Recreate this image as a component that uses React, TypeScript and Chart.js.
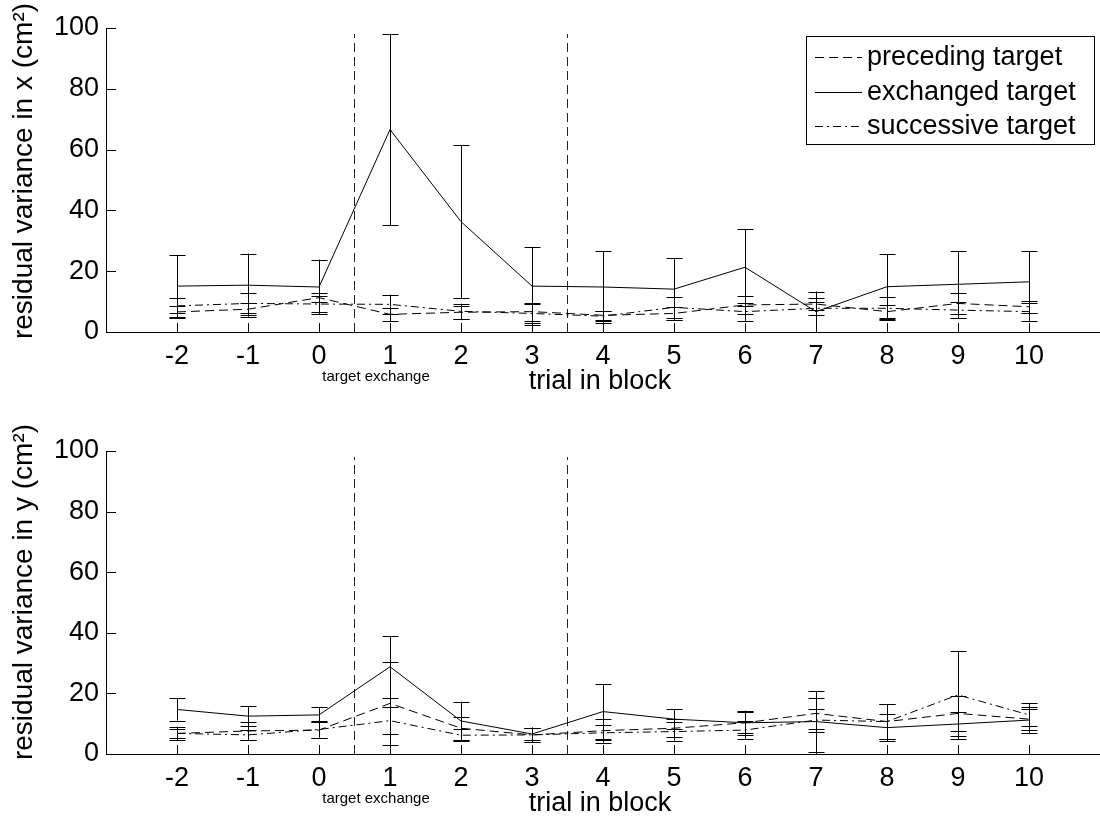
import React, { useEffect, useRef } from "react";
import { Chart, registerables } from "chart.js";

Chart.register(...registerables);

// ---------- data ----------
const trials = [-2, -1, 0, 1, 2, 3, 4, 5, 6, 7, 8, 9, 10];
const yTickValues = [0, 20, 40, 60, 80, 100];
const exchangeLines = [0.5, 3.5];
const exchangeLineTop = 98;
const seriesNames = ["preceding target", "exchanged target", "successive target"];

// residual variance in x
const xPrecedingMean = [6.6, 7.5, 11.3, 5.8, 6.5, 6.7, 5.5, 6.1, 8.9, 9.2, 6.7, 9.4, 8.3];
const xPrecedingErr = [1.9, 2.0, 1.5, 2.2, 2.2, 3.0, 1.5, 2.0, 3.0, 2.0, 2.2, 3.5, 2.0];
const xExchangedMean = [15.1, 15.4, 14.8, 66.6, 36.3, 15.1, 14.8, 14.1, 21.3, 6.7, 14.9, 15.7, 16.5];
const xExchangedErr = [10.3, 10.4, 9.0, 31.5, 25.2, 12.9, 11.8, 10.3, 12.6, 6.6, 10.6, 11.0, 10.2];
const xSuccessiveMean = [8.6, 9.4, 9.2, 9.1, 6.8, 6.1, 5.2, 8.1, 6.7, 7.8, 7.8, 7.2, 6.7];
const xSuccessiveErr = [2.5, 3.3, 2.6, 3.2, 2.5, 3.0, 1.7, 3.5, 3.0, 2.2, 3.8, 2.7, 3.0];

// residual variance in y
const yPrecedingMean = [6.8, 7.6, 7.9, 16.7, 8.5, 6.3, 7.7, 8.5, 10.3, 13.4, 10.7, 13.4, 11.5];
const yPrecedingErr = [1.5, 2.9, 2.5, 13.7, 3.8, 2.3, 4.0, 3.0, 3.5, 5.0, 5.7, 5.8, 3.5];
const yExchangedMean = [14.7, 12.5, 12.9, 28.8, 10.9, 6.6, 14.0, 11.5, 10.3, 10.7, 8.7, 9.9, 11.2];
const yExchangedErr = [3.7, 3.3, 2.5, 10.2, 6.4, 2.1, 9.1, 3.2, 4.0, 10.1, 4.4, 4.0, 4.2];
const ySuccessiveMean = [6.8, 6.3, 8.1, 11.0, 6.2, 6.3, 7.0, 7.4, 7.9, 11.2, 10.7, 19.5, 12.9];
const ySuccessiveErr = [2.2, 1.7, 2.7, 4.5, 2.0, 2.4, 2.5, 3.0, 2.9, 3.8, 5.8, 14.5, 3.8];

// ---------- styles ----------
const FONT = '"Liberation Sans", Arial, Helvetica, sans-serif';
const DASH = [9, 5];
const DASHDOT = [8, 4, 2, 4];
const seriesDash = [DASH, [], DASHDOT];

type Panel = {
  ylabel: string;
  means: number[][];
  errs: number[][];
  top: number;
  bottom: number;
  legend: boolean;
  xlabelY: number;
  noteY: number;
  ylabelY: number;
};

const panels: Panel[] = [
  {
    ylabel: "residual variance in x (cm²)",
    means: [xPrecedingMean, xExchangedMean, xSuccessiveMean],
    errs: [xPrecedingErr, xExchangedErr, xSuccessiveErr],
    top: 28,
    bottom: 332,
    legend: true,
    xlabelY: 382,
    noteY: 377,
    ylabelY: 171,
  },
  {
    ylabel: "residual variance in y (cm²)",
    means: [yPrecedingMean, yExchangedMean, ySuccessiveMean],
    errs: [yPrecedingErr, yExchangedErr, ySuccessiveErr],
    top: 42,
    bottom: 345,
    legend: false,
    xlabelY: 395,
    noteY: 390,
    ylabelY: 183,
  },
];

const W = 1100;
const H = 409;

const panelPlugin = {
  id: "panel",
  afterDatasetsDraw(chart: any, _args: any, opts: any) {
    const p: Panel = opts.panel;
    const ctx = chart.ctx as CanvasRenderingContext2D;
    const xs = chart.scales.x;
    const ys = chart.scales.y;
    const area = chart.chartArea;
    ctx.save();
    ctx.strokeStyle = "#000";
    ctx.lineWidth = 1;
    ctx.setLineDash([]);

    // error bars
    p.means.forEach((m, si) => {
      m.forEach((v, j) => {
        const e = p.errs[si][j];
        const px = Math.round(xs.getPixelForValue(trials[j])) + 0.5;
        const y1 = ys.getPixelForValue(v + e);
        const y2 = ys.getPixelForValue(v - e);
        ctx.beginPath();
        ctx.moveTo(px, y1);
        ctx.lineTo(px, y2);
        ctx.moveTo(px - 8, Math.round(y1) + 0.5);
        ctx.lineTo(px + 8, Math.round(y1) + 0.5);
        ctx.moveTo(px - 8, Math.round(y2) + 0.5);
        ctx.lineTo(px + 8, Math.round(y2) + 0.5);
        ctx.stroke();
      });
    });

    // inward tick marks
    ctx.beginPath();
    trials.forEach((t) => {
      const px = Math.round(xs.getPixelForValue(t)) + 0.5;
      ctx.moveTo(px, area.bottom);
      ctx.lineTo(px, area.bottom - 9);
    });
    yTickValues.forEach((t) => {
      const py = Math.round(ys.getPixelForValue(t)) + 0.5;
      ctx.moveTo(area.left, py);
      ctx.lineTo(area.left + 10, py);
    });
    ctx.stroke();

    // texts
    ctx.fillStyle = "#000";
    ctx.textAlign = "center";
    ctx.textBaseline = "middle";
    ctx.font = `15px ${FONT}`;
    ctx.fillText("target exchange", 376, p.noteY);
    ctx.font = `27px ${FONT}`;
    ctx.fillText("trial in block", 600, p.xlabelY);

    ctx.save();
    ctx.font = `28px ${FONT}`;
    ctx.translate(24, p.ylabelY);
    ctx.rotate(-Math.PI / 2);
    ctx.fillText(p.ylabel, 0, 0);
    ctx.restore();

    // legend
    if (p.legend) {
      const bx = 806.5, by = 36.5, bw = 288, bh = 108;
      ctx.fillStyle = "#fff";
      ctx.fillRect(bx, by, bw, bh);
      ctx.strokeRect(bx, by, bw, bh);
      ctx.fillStyle = "#000";
      ctx.font = `27px ${FONT}`;
      ctx.textAlign = "left";
      ctx.textBaseline = "middle";
      const rows = [57, 92, 126];
      seriesNames.forEach((name, i) => {
        ctx.setLineDash(seriesDash[i]);
        ctx.beginPath();
        ctx.moveTo(815, rows[i] + 0.5);
        ctx.lineTo(862, rows[i] + 0.5);
        ctx.stroke();
        ctx.setLineDash([]);
        ctx.fillText(name, 867, rows[i] + 1);
      });
    }
    ctx.restore();
  },
};

function buildConfig(p: Panel): any {
  const datasets: any[] = p.means.map((m, si) => ({
    label: seriesNames[si],
    data: m.map((v, j) => ({ x: trials[j], y: v })),
    borderColor: "#000",
    borderWidth: 1,
    borderDash: seriesDash[si],
    pointRadius: 0,
    fill: false,
    tension: 0,
  }));
  exchangeLines.forEach((xv) => {
    datasets.push({
      label: "exchange",
      data: [
        { x: xv, y: 0 },
        { x: xv, y: exchangeLineTop },
      ],
      borderColor: "#222",
      borderWidth: 1,
      borderDash: DASH,
      pointRadius: 0,
      fill: false,
    });
  });
  return {
    type: "line",
    data: { datasets },
    plugins: [panelPlugin],
    options: {
      responsive: false,
      animation: false,
      devicePixelRatio: 1,
      layout: { padding: { top: p.top, left: 0, right: 0, bottom: 0 } },
      plugins: {
        legend: { display: false },
        tooltip: { enabled: false },
        panel: { panel: p },
      },
      scales: {
        x: {
          type: "linear",
          min: -3,
          max: 11,
          afterFit: (s: any) => {
            s.height = H - p.bottom;
            s.paddingLeft = 0;
            s.paddingRight = 0;
          },
          ticks: {
            stepSize: 1,
            autoSkip: false,
            maxRotation: 0,
            padding: 8,
            color: "#000",
            font: { family: FONT, size: 27 },
            callback: (v: any) => (trials.includes(Number(v)) ? String(v) : ""),
          },
          grid: { display: false, drawTicks: false },
          border: { display: true, color: "#000", width: 1 },
        },
        y: {
          min: 0,
          max: 100,
          afterFit: (s: any) => {
            s.width = 106;
            s.paddingTop = 0;
            s.paddingBottom = 0;
          },
          afterBuildTicks: (s: any) => {
            s.ticks = yTickValues.map((v) => ({ value: v }));
          },
          ticks: {
            padding: 7,
            color: "#000",
            font: { family: FONT, size: 27 },
          },
          grid: { display: false, drawTicks: false },
          border: { display: true, color: "#000", width: 1 },
        },
      },
    },
  };
}

function PanelChart({ p }: { p: Panel }) {
  const ref = useRef<HTMLCanvasElement | null>(null);
  useEffect(() => {
    if (!ref.current) return;
    const chart = new Chart(ref.current, buildConfig(p));
    return () => chart.destroy();
  }, [p]);
  return (
    <canvas
      ref={ref}
      width={W}
      height={H}
      style={{ display: "block", width: W, height: H }}
    />
  );
}

export default function App() {
  return (
    <div
      style={{
        position: "absolute",
        left: 0,
        top: 0,
        width: W,
        height: 818,
        background: "#fff",
      }}
    >
      {panels.map((p, i) => (
        <PanelChart key={i} p={p} />
      ))}
    </div>
  );
}
